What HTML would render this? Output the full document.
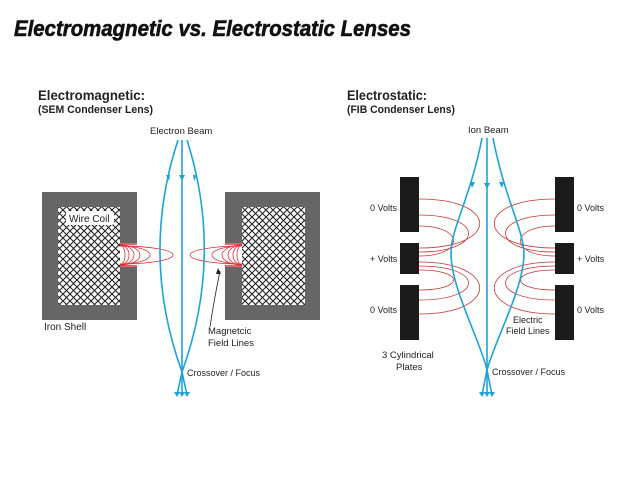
<!DOCTYPE html>
<html><head><style>
html,body{margin:0;padding:0;background:#fff;}
svg{display:block;font-family:"Liberation Sans",sans-serif;}
</style></head><body>
<svg width="640" height="480" viewBox="0 0 640 480" xmlns="http://www.w3.org/2000/svg">
<defs>
<pattern id="h" width="7" height="7" patternUnits="userSpaceOnUse">
<rect width="7" height="7" fill="#fff"/>
<path d="M0,0 L7,7 M7,0 L0,7" stroke="#222" stroke-width="1.1"/>
</pattern>
</defs>
<text x="14" y="36" font-size="22" font-weight="bold" font-style="italic" fill="#111" stroke="#111" stroke-width="0.6" textLength="397" lengthAdjust="spacingAndGlyphs">Electromagnetic vs. Electrostatic Lenses</text>

<text x="38" y="100" font-size="14" font-weight="bold" fill="#222" textLength="107" lengthAdjust="spacingAndGlyphs">Electromagnetic:</text>
<text x="38" y="113" font-size="11" font-weight="bold" fill="#222" textLength="115" lengthAdjust="spacingAndGlyphs">(SEM Condenser Lens)</text>
<text x="347" y="100" font-size="14" font-weight="bold" fill="#222" textLength="80" lengthAdjust="spacingAndGlyphs">Electrostatic:</text>
<text x="347" y="113" font-size="11" font-weight="bold" fill="#222" textLength="108" lengthAdjust="spacingAndGlyphs">(FIB Condenser Lens)</text>

<!-- Electromagnetic -->
<rect x="42" y="192" width="95" height="128" fill="#666"/>
<rect x="58" y="207" width="62" height="98" fill="url(#h)"/>
<rect x="120" y="243" width="17" height="24" fill="#fff"/>
<rect x="225" y="192" width="95" height="128" fill="#666"/>
<rect x="242" y="207" width="63" height="98" fill="url(#h)"/>
<rect x="225" y="243" width="17" height="24" fill="#fff"/>
<rect x="66" y="211" width="48" height="14" rx="3" fill="#fff"/>
<text x="69" y="222" font-size="10" fill="#222">Wire Coil</text>
<g fill="none" stroke="#d8303a" stroke-width="0.8">
<path d="M120,244 H137 M120,266 H137 M225,244 H242 M225,266 H242" stroke-width="1.6"/>
<path d="M120,245 A5,10 0 0 1 120,265"/><path d="M120,245 A9,10 0 0 1 120,265"/>
<path d="M120,245 A14,10 0 0 1 120,265"/><path d="M120,245 A20,10 0 0 1 120,265"/>
<path d="M120,246 A30,9 0 0 1 120,264"/><path d="M120,246 A53,9 0 0 1 120,264"/>
<path d="M242,245 A5,10 0 0 0 242,265"/><path d="M242,245 A9,10 0 0 0 242,265"/>
<path d="M242,245 A14,10 0 0 0 242,265"/><path d="M242,245 A20,10 0 0 0 242,265"/>
<path d="M242,246 A30,9 0 0 0 242,264"/><path d="M242,246 A52,9 0 0 0 242,264"/>
</g>
<g fill="none" stroke="#1fa3d6" stroke-width="1.6">
<path d="M178,140 Q140,256 182,372"/>
<path d="M187,140 Q224,256 182,372"/>
<path d="M182,140 V395"/>
<path d="M182,372 L177,395 M182,372 L187,395"/>
</g>
<g fill="#1fa3d6">
<path d="M166,175 l4,0 l-1,6z"/><path d="M179,175 l6,0 l-3,6z"/><path d="M193,175 l4,0 l-3,6z"/>
<path d="M174,392 l6,0 l-3,5z"/><path d="M179,392 l6,0 l-3,5z"/><path d="M184,392 l6,0 l-3,5z"/>
</g>
<text x="150" y="134" font-size="9.5" fill="#222">Electron Beam</text>
<text x="44" y="330" font-size="10" fill="#222">Iron Shell</text>
<text x="208" y="334" font-size="9.5" fill="#222">Magnetcic</text>
<text x="208" y="346" font-size="9.5" fill="#222">Field Lines</text>
<path d="M210,327 Q214,300 220,271" stroke="#222" fill="none" stroke-width="0.8"/>
<path d="M218,268 l-2,6 l5,0z" fill="#222"/>
<text x="187" y="376" font-size="9" fill="#222">Crossover / Focus</text>

<!-- Electrostatic -->
<g fill="#1b1b1b">
<rect x="400" y="177" width="19" height="55"/><rect x="400" y="243" width="19" height="31"/><rect x="400" y="285" width="19" height="55"/>
<rect x="555" y="177" width="19" height="55"/><rect x="555" y="243" width="19" height="31"/><rect x="555" y="285" width="19" height="55"/>
</g>
<g fill="none" stroke="#c03838" stroke-width="0.8">
<path d="M419,199 C500,199 500,248 419,248"/><path d="M419,215 C485,215 485,252 419,252"/><path d="M419,226 C465,226 465,256 419,256"/>
<path d="M419,262 C500,262 500,314 419,314"/><path d="M419,266 C485,266 485,300 419,300"/><path d="M419,270 C465,270 465,290 419,290"/>
<path d="M555,199 C474,199 474,248 555,248"/><path d="M555,215 C489,215 489,252 555,252"/><path d="M555,226 C509,226 509,256 555,256"/>
<path d="M555,262 C474,262 474,314 555,314"/><path d="M555,266 C489,266 489,300 555,300"/><path d="M555,270 C509,270 509,290 555,290"/>
</g>
<g fill="none" stroke="#1fa3d6" stroke-width="1.6">
<path d="M482,138 C470,200 450,230 451,255 C452,290 480,340 487,370"/>
<path d="M493,138 C505,200 524,230 524,255 C523,290 495,340 487,370"/>
<path d="M487,138 V395"/>
<path d="M487,370 L482,395 M487,370 L492,395"/>
</g>
<g fill="#1fa3d6">
<path d="M470,182 l5,0 l-3,6z"/><path d="M484,183 l6,0 l-3,6z"/><path d="M499,182 l5,0 l-2,6z"/>
<path d="M479,392 l6,0 l-3,5z"/><path d="M484,392 l6,0 l-3,5z"/><path d="M489,392 l6,0 l-3,5z"/>
</g>
<text x="468" y="133" font-size="9.5" fill="#222">Ion Beam</text>
<g font-size="9" fill="#222">
<text x="370" y="211">0 Volts</text><text x="370" y="262">+ Volts</text><text x="370" y="313">0 Volts</text>
<text x="577" y="211">0 Volts</text><text x="577" y="262">+ Volts</text><text x="577" y="313">0 Volts</text>
<text x="513" y="323">Electric</text><text x="506" y="334">Field Lines</text>
<text x="492" y="375">Crossover / Focus</text>
</g>
<text x="382" y="358" font-size="9.5" fill="#222">3 Cylindrical</text>
<text x="396" y="370" font-size="9.5" fill="#222">Plates</text>
</svg>
</body></html>
